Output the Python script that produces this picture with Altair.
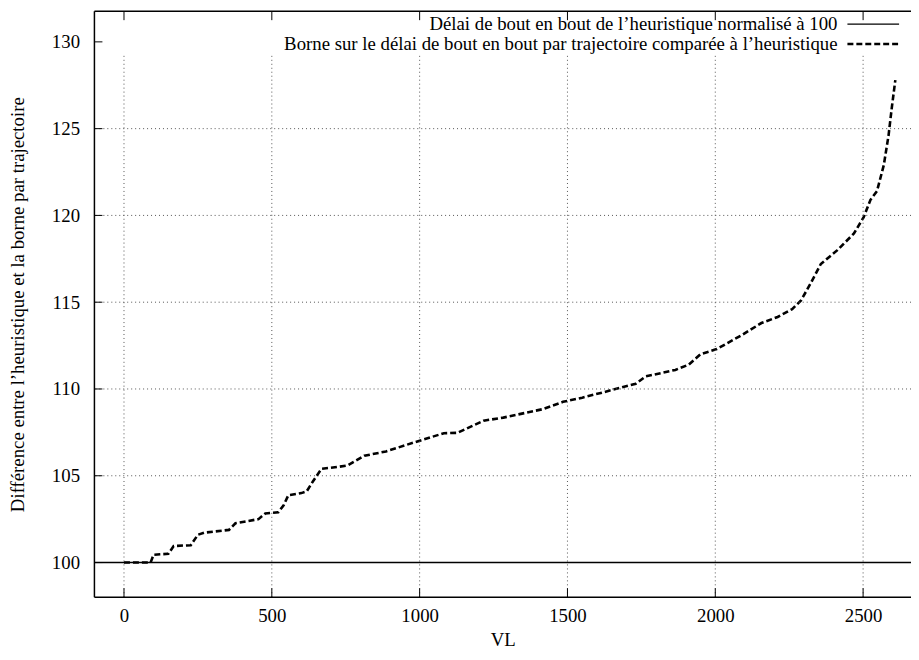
import altair as alt
import pandas as pd

# ---- data ----
vl = [0, 90, 100, 150, 168, 226, 250, 271, 355, 377, 455, 478, 522, 540, 556,
      600, 618, 640, 668, 720, 757, 813, 886, 950, 1015, 1082, 1127, 1216, 1283,
      1417, 1485, 1550, 1619, 1731, 1764, 1865, 1910, 1950, 2005, 2089, 2156,
      2211, 2260, 2290, 2323, 2357, 2413, 2469, 2502, 2525, 2547, 2570, 2586,
      2597, 2609]
borne = [100.0, 100.0, 100.45, 100.5, 100.95, 101.0, 101.6, 101.72, 101.88,
         102.26, 102.5, 102.83, 102.9, 103.3, 103.88, 104.0, 104.1, 104.7,
         105.4, 105.5, 105.6, 106.15, 106.4, 106.75, 107.1, 107.45, 107.47,
         108.17, 108.35, 108.84, 109.26, 109.5, 109.8, 110.3, 110.72, 111.1,
         111.4, 112.0, 112.3, 113.1, 113.8, 114.15, 114.6, 115.1, 116.1, 117.2,
         118.0, 118.96, 119.9, 120.9, 121.4, 122.9, 124.6, 126.2, 127.8]
heuristique = 100

x_ticks = [0, 500, 1000, 1500, 2000, 2500]
y_ticks = [100, 105, 110, 115, 120, 125, 130]

legend_labels = [
    "Délai de bout en bout de l’heuristique normalisé à 100",
    "Borne sur le délai de bout en bout par trajectoire comparée à l’heuristique",
]
x_title = "VL"
y_title = "Différence entre l’heuristique et la borne par trajectoire"

# ---- layout / style ----
X_DOMAIN = [-100, 2662]
Y_DOMAIN = [98, 131.77]
W, H = 822, 590
FONT = "'Liberation Serif', 'Times New Roman', Times, 'DejaVu Serif', serif"
FS = 18.9
GRID_TOP = 129.33

xs = alt.Scale(domain=X_DOMAIN, nice=False, zero=False)
ys = alt.Scale(domain=Y_DOMAIN, nice=False, zero=False)

x_axis = alt.Axis(
    values=x_ticks, format="d", title=x_title, domain=False, ticks=False, grid=False,
    labelFont=FONT, labelFontSize=FS, labelColor="black", labelPadding=9,
    titleFont=FONT, titleFontSize=FS, titleFontWeight="normal",
    titleColor="black", titleY=43, titleBaseline="middle")
y_axis = alt.Axis(
    values=y_ticks, format="d", title=y_title, domain=False, ticks=False, grid=False,
    labelFont=FONT, labelFontSize=FS, labelColor="black", labelPadding=15,
    titleFont=FONT, titleFontSize=FS, titleFontWeight="normal",
    titleColor="black", titleX=-77, titleY=H / 2, titleAngle=270,
    titleAlign="center", titleBaseline="middle")

curve_df = pd.DataFrame({"vl": vl, "borne": borne})
xt_df = pd.DataFrame({"x": x_ticks})
yt_df = pd.DataFrame({"y": y_ticks})
ygrid_df = pd.DataFrame({"y": [t for t in y_ticks if Y_DOMAIN[0] + 2 < t < 130]})

grid_style = dict(color="#555555", strokeWidth=1, strokeDash=[1, 3])

# gridlines
vgrid = alt.Chart(xt_df).mark_rule(**grid_style).encode(
    x=alt.X("x:Q", scale=xs, axis=x_axis),
    y=alt.YDatum(Y_DOMAIN[0], scale=ys, axis=y_axis),
    y2=alt.Y2Datum(GRID_TOP),
)
hgrid = alt.Chart(ygrid_df).mark_rule(**grid_style).encode(
    y=alt.Y("y:Q", scale=ys, axis=y_axis),
)

# heuristic line at 100
heur = alt.Chart(pd.DataFrame({"h": [heuristique]})).mark_rule(
    color="black", strokeWidth=1.5
).encode(y=alt.Y("h:Q", scale=ys, axis=y_axis))

# dashed curve
curve = alt.Chart(curve_df).mark_line(
    color="black", strokeWidth=2.6, strokeDash=[6, 3], interpolate="linear"
).encode(
    x=alt.X("vl:Q", scale=xs, axis=x_axis),
    y=alt.Y("borne:Q", scale=ys, axis=y_axis),
)

# inward ticks
tick_style = dict(color="black", strokeWidth=1)
xtick_len = 0.52
ytick_len = 27
bottom_ticks = alt.Chart(xt_df).mark_rule(**tick_style).encode(
    x=alt.X("x:Q", scale=xs, axis=x_axis),
    y=alt.YDatum(Y_DOMAIN[0], scale=ys, axis=y_axis),
    y2=alt.Y2Datum(Y_DOMAIN[0] + xtick_len),
)
top_ticks = alt.Chart(xt_df).mark_rule(**tick_style).encode(
    x=alt.X("x:Q", scale=xs, axis=x_axis),
    y=alt.YDatum(Y_DOMAIN[1], scale=ys, axis=y_axis),
    y2=alt.Y2Datum(Y_DOMAIN[1] - xtick_len),
)
left_ticks = alt.Chart(yt_df).mark_rule(**tick_style).encode(
    y=alt.Y("y:Q", scale=ys, axis=y_axis),
    x=alt.XDatum(X_DOMAIN[0], scale=xs, axis=x_axis),
    x2=alt.X2Datum(X_DOMAIN[0] + ytick_len),
)

# frame (left, top, bottom)
frame_style = dict(color="black", strokeWidth=1.5)
frame_top = alt.Chart(pd.DataFrame({"y": [Y_DOMAIN[1]]})).mark_rule(**frame_style).encode(
    y=alt.Y("y:Q", scale=ys, axis=y_axis))
frame_bottom = alt.Chart(pd.DataFrame({"y": [Y_DOMAIN[0]]})).mark_rule(**frame_style).encode(
    y=alt.Y("y:Q", scale=ys, axis=y_axis))
frame_left = alt.Chart(pd.DataFrame({"x": [X_DOMAIN[0]]})).mark_rule(**frame_style).encode(
    x=alt.X("x:Q", scale=xs, axis=x_axis))

# legend (top right, gnuplot style)
def legend_row(label, ypix, dash):
    txt = alt.Chart(pd.DataFrame({"label": [label]})).mark_text(
        align="right", baseline="middle", font=FONT, fontSize=FS, color="black"
    ).encode(text="label:N", x=alt.value(748), y=alt.value(ypix))
    rule_kw = dict(color="black", strokeWidth=2.6 if dash else 1.3)
    if dash:
        rule_kw["strokeDash"] = [6, 3]
    sample = alt.Chart(pd.DataFrame({"label": [label]})).mark_rule(**rule_kw).encode(
        x=alt.value(758), x2=alt.value(810), y=alt.value(ypix))
    return txt + sample

leg1 = legend_row(legend_labels[0], 13, False)
leg2 = legend_row(legend_labels[1], 33, True)

chart = alt.layer(
    curve, vgrid, hgrid, heur, bottom_ticks, top_ticks, left_ticks,
    frame_top, frame_bottom, frame_left, leg1, leg2,
).properties(
    width=W, height=H,
    autosize=alt.AutoSizeParams(type="none"),
    padding={"left": 87, "top": 1, "right": 0, "bottom": 60},
).configure_view(stroke=None)

chart.save("out.html", embed_options={"renderer": "svg", "actions": False})
